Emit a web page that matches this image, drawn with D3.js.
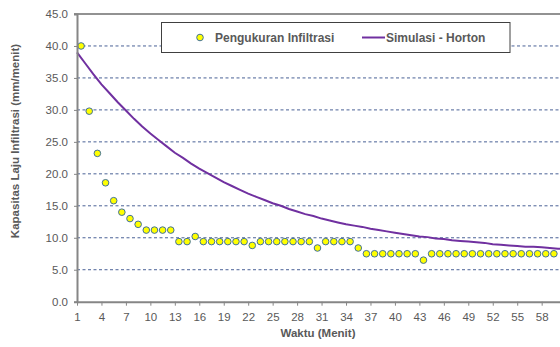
<html>
<head>
<script src="https://d3js.org/d3.v7.min.js"></script>
<style>
  body { margin: 0; background: #fff; }
  text { font-family: "Liberation Sans", Arial, sans-serif; fill: #595959; }
  .grid line { stroke: #4a6196; stroke-dasharray: 3,2.5; }
  .axis .domain { stroke: #868686; stroke-width: 2; }
  .axis .tick line { stroke: #868686; }
</style>
</head>
<body>
<svg id="chart" width="560" height="347"></svg>
<script>
// measurement minutes and values
const minutes = d3.range(1, 60);
const measured = [40.0, 29.8, 23.2, 18.6, 15.8, 14.0, 13.0, 12.1, 11.2, 11.2,
  11.2, 11.2, 9.4, 9.4, 10.2, 9.4, 9.4, 9.4, 9.4, 9.4,
  9.4, 8.8, 9.4, 9.4, 9.4, 9.4, 9.4, 9.4, 9.4, 8.4,
  9.4, 9.4, 9.4, 9.4, 8.4, 7.5, 7.5, 7.5, 7.5, 7.5,
  7.5, 7.5, 6.5, 7.5, 7.5, 7.5, 7.5, 7.5, 7.5, 7.5,
  7.5, 7.5, 7.5, 7.5, 7.5, 7.5, 7.5, 7.5, 7.5];

// horton simulation
const simMinutes = d3.range(1, 62);
const simulated = [39.0, 37.3, 35.6, 34.0, 32.6, 31.2, 29.9, 28.6, 27.4, 26.3,
  25.3, 24.3, 23.3, 22.5, 21.6, 20.8, 20.1, 19.4, 18.7, 18.1,
  17.5, 16.9, 16.4, 15.9, 15.4, 15.0, 14.5, 14.1, 13.7, 13.4,
  13.0, 12.7, 12.4, 12.1, 11.9, 11.7, 11.4, 11.2, 11.0, 10.8,
  10.6, 10.4, 10.2, 10.1, 9.9, 9.8, 9.6, 9.5, 9.4, 9.3,
  9.2, 9.0, 8.9, 8.8, 8.7, 8.6, 8.6, 8.5, 8.4, 8.3, 8.3];

const yTicks = [0, 5, 10, 15, 20, 25, 30, 35, 40, 45];
const xTicks = [1, 4, 7, 10, 13, 16, 19, 22, 25, 28, 31, 34, 37, 40, 43, 46, 49, 52, 55, 58];

const svg = d3.select("#chart");
const plotLeft = 77, plotTop = 14, plotBottom = 301.7, step = 8.152;

const x = d3.scaleLinear().domain([1, 61]).range([plotLeft, plotLeft + 60 * step]);
const y = d3.scaleLinear().domain([0, 45]).range([plotBottom, plotTop]);

// gridlines
svg.append("g").attr("class", "grid")
  .selectAll("line").data(yTicks.filter(d => d > 0 && d < 45)).join("line")
  .attr("x1", plotLeft).attr("x2", 560)
  .attr("y1", d => y(d)).attr("y2", d => y(d));

// top border
svg.append("line")
  .attr("x1", plotLeft - 3).attr("x2", 560)
  .attr("y1", y(45)).attr("y2", y(45))
  .attr("stroke", "#6e6e6e").attr("stroke-width", 1.5);

// simulation line
const lineGen = d3.line()
  .x((d, i) => x(simMinutes[i]))
  .y(d => y(d));
svg.append("path")
  .datum(simulated)
  .attr("fill", "none")
  .attr("stroke", "#7030a0")
  .attr("stroke-width", 2)
  .attr("d", lineGen);

// measured points
svg.append("g").selectAll("circle")
  .data(measured).join("circle")
  .attr("cx", (d, i) => x(minutes[i] + 0.5))
  .attr("cy", d => y(d))
  .attr("r", 3.3)
  .attr("fill", "#ffff00")
  .attr("stroke", "#41719c")
  .attr("stroke-width", 1);

// axes
const yAxis = d3.axisLeft(y).tickValues(yTicks).tickFormat(d3.format(".1f")).tickSize(3).tickPadding(6);
svg.append("g").attr("class", "axis")
  .attr("transform", `translate(${plotLeft},0)`)
  .call(yAxis)
  .call(g => g.selectAll("text").style("font-size", "11.5px"));

const xAxis = d3.axisBottom(x).tickValues(xTicks).tickFormat(d3.format("d")).tickSize(4).tickSizeOuter(0).tickPadding(7);
svg.append("g").attr("class", "axis")
  .attr("transform", `translate(0,${plotBottom})`)
  .call(xAxis)
  .call(g => g.selectAll("text").style("font-size", "11.5px"));

// axis titles
svg.append("text")
  .attr("x", 318).attr("y", 337)
  .attr("text-anchor", "middle")
  .style("font-size", "11.5px").style("font-weight", "bold")
  .text("Waktu (Menit)");
svg.append("text")
  .attr("transform", "translate(19,141) rotate(-90)")
  .attr("text-anchor", "middle")
  .style("font-size", "11.5px").style("font-weight", "bold")
  .text("Kapasitas Laju Infiltrasi (mm/menit)");

// legend
const legend = svg.append("g");
legend.append("rect")
  .attr("x", 161.5).attr("y", 22.5).attr("width", 348.5).attr("height", 30)
  .attr("fill", "#fff").attr("stroke", "#404040").attr("stroke-width", 1);
legend.append("circle")
  .attr("cx", 200).attr("cy", 37.5).attr("r", 3.3)
  .attr("fill", "#ffff00").attr("stroke", "#41719c");
legend.append("text")
  .attr("x", 215).attr("y", 41.5)
  .style("font-size", "12px").style("font-weight", "bold")
  .text("Pengukuran Infiltrasi");
legend.append("line")
  .attr("x1", 362).attr("x2", 385).attr("y1", 37.5).attr("y2", 37.5)
  .attr("stroke", "#7030a0").attr("stroke-width", 2);
legend.append("text")
  .attr("x", 386).attr("y", 41.5)
  .style("font-size", "12px").style("font-weight", "bold")
  .text("Simulasi - Horton");
</script>
</body>
</html>
